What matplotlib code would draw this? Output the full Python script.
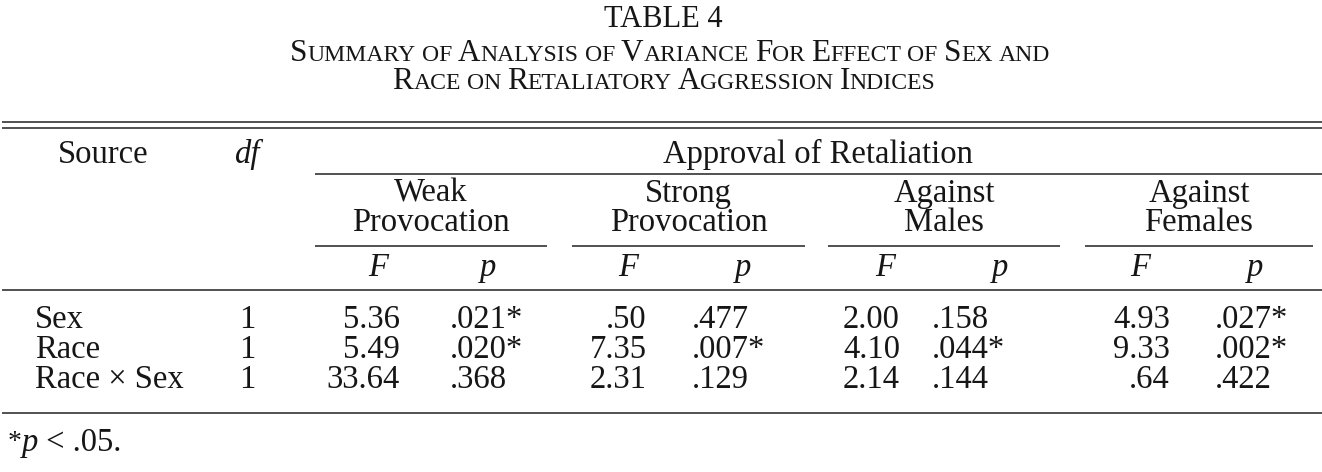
import matplotlib
matplotlib.use("Agg")
import matplotlib.pyplot as plt

plt.rcParams['font.family'] = ['Liberation Serif', 'DejaVu Serif']

# table content
title = "TABLE 4"
subtitle = ["Summary of Analysis of Variance For Effect of Sex and",
            "Race on Retaliatory Aggression Indices"]
spanner = "Approval of Retaliation"
groups = [("Weak", "Provocation"), ("Strong", "Provocation"),
          ("Against", "Males"), ("Against", "Females")]
sources = ["Sex", "Race", "Race × Sex"]
df_vals = [1, 1, 1]
weak_F = [5.36, 5.49, 33.64]
weak_p = [.021, .020, .368]
strong_F = [.50, 7.35, 2.31]
strong_p = [.477, .007, .129]
males_F = [2.00, 4.10, 2.14]
males_p = [.158, .044, .144]
females_F = [4.93, 9.33, .64]
females_p = [.027, .002, .422]
footnote_p = .05

W, H = 1322, 472
fig = plt.figure(figsize=(W / 100, H / 100), dpi=100)
ax = fig.add_axes([0, 0, 1, 1])
ax.set_xlim(0, W)
ax.set_ylim(H, 0)
ax.axis('off')

ink = '#161616'
fs = 23.5
renderer = fig.canvas.get_renderer()


def fmt_F(v):
    return f"{v:.2f}".lstrip("0")


def fmt_p(v):
    s = f"{v:.3f}".lstrip("0")
    return s + "*" if v < footnote_p else s


def pieces_text(pieces, x, y, ha='center'):
    # draw a run of (text, size, style, raise) pieces side by side
    arts = []
    for txt, size, style, dy in pieces:
        t = ax.text(0, y - dy, txt, fontsize=size, style=style, color=ink,
                    ha='left', va='baseline')
        arts.append(t)
    widths = [a.get_window_extent(renderer).width for a in arts]
    total = sum(widths)
    x0 = x - total / 2 if ha == 'center' else x
    for a, w in zip(arts, widths):
        a.set_x(x0)
        x0 += w


def small_caps(text, x, y, big, small):
    pieces = []
    words = text.split(" ")
    for i, wd in enumerate(words):
        if i > 0:
            pieces.append((" ", small, 'normal', 0))
        if wd.islower():
            pieces.append((wd.upper(), small, 'normal', 0))
        else:
            pieces.append((wd[0], big, 'normal', 0))
            if len(wd) > 1:
                pieces.append((wd[1:].upper(), small, 'normal', 0))
    pieces_text(pieces, x, y)


def rule(x0, x1, y, lw=1.1):
    ax.plot([x0, x1], [y, y], color='#222222', lw=lw, solid_capstyle='butt')


# title block
ax.text(663, 27, title, fontsize=22, color=ink, ha='center', va='baseline')
small_caps(subtitle[0], 670, 61, 22.5, 22.5 * 0.76)
small_caps(subtitle[1], 664, 89, 22.5, 22.5 * 0.76)

# rules
rule(2, W, 122)
rule(2, W, 128)
rule(315, W, 174)
spans = [(315, 547), (572, 805), (828, 1060), (1085, 1313)]
for a, b in spans:
    rule(a, b, 246)
rule(2, W, 290)
rule(2, W, 413)

# column headers
ax.text(103, 163, "Source", fontsize=fs, color=ink, ha='center', va='baseline')
ax.text(247, 163, "df", fontsize=fs, style='italic', color=ink, ha='center', va='baseline')
ax.text(818, 163, spanner, fontsize=fs, color=ink, ha='center', va='baseline')
for (top, bot), (a, b) in zip(groups, spans):
    c = (a + b) / 2
    ax.text(c, 202, top, fontsize=fs, color=ink, ha='center', va='baseline')
    ax.text(c, 231, bot, fontsize=fs, color=ink, ha='center', va='baseline')

F_head = [378, 628, 885, 1140]
p_head = [488, 743, 1000, 1255]
for xf, xp in zip(F_head, p_head):
    ax.text(xf, 276, "F", fontsize=fs, style='italic', color=ink, ha='center', va='baseline')
    ax.text(xp, 276, "p", fontsize=fs, style='italic', color=ink, ha='center', va='baseline')

# body
row_y = [328, 358, 388]
F_cols = [weak_F, strong_F, males_F, females_F]
p_cols = [weak_p, strong_p, males_p, females_p]
F_right = [400, 647, 900, 1170]
p_left = [450, 692, 932, 1215]
for i, y in enumerate(row_y):
    ax.text(35, y, sources[i], fontsize=fs, color=ink, ha='left', va='baseline')
    ax.text(247, y, str(df_vals[i]), fontsize=fs, color=ink, ha='center', va='baseline')
    for Fc, pc, xr, xl in zip(F_cols, p_cols, F_right, p_left):
        ax.text(xr, y, fmt_F(Fc[i]), fontsize=fs, color=ink, ha='right', va='baseline')
        ax.text(xl, y, fmt_p(pc[i]), fontsize=fs, color=ink, ha='left', va='baseline')

# footnote
pieces_text([("*", fs * 0.85, 'normal', 2), ("p", fs, 'italic', 0),
             (" < " + f"{footnote_p:.2f}".lstrip("0") + ".", fs, 'normal', 0)],
            8, 451, ha='left')

fig.savefig("out.png", dpi=100)
